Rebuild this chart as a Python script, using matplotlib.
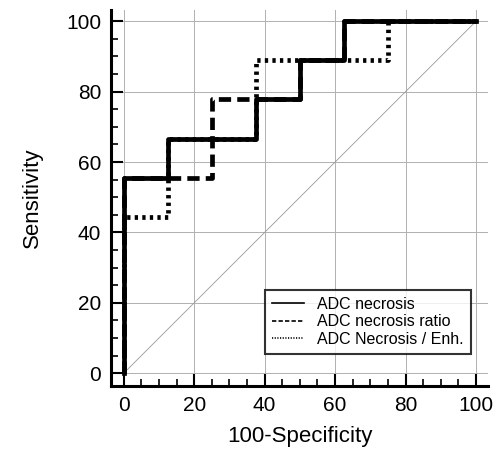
import numpy as np
import matplotlib
matplotlib.use("Agg")
import matplotlib.pyplot as plt
from matplotlib.ticker import MultipleLocator

plt.rcParams['font.family'] = ['Liberation Sans', 'DejaVu Sans']

# ROC vertices: 100-specificity (x) and sensitivity (y)
necrosis_x = [0, 0, 12.5, 12.5, 37.5, 37.5, 50, 50, 62.5, 62.5, 100]
necrosis_y = [0, 55.56, 55.56, 66.67, 66.67, 77.78, 77.78, 88.89, 88.89, 100, 100]

ratio_x = [0, 0, 25, 25, 37.5, 37.5, 50, 50, 62.5, 62.5, 100]
ratio_y = [0, 55.56, 55.56, 77.78, 77.78, 77.78, 77.78, 88.89, 88.89, 100, 100]

enh_x = [0, 0, 12.5, 12.5, 37.5, 37.5, 75, 75, 100]
enh_y = [0, 44.44, 44.44, 66.67, 66.67, 88.89, 88.89, 100, 100]

labels = ["ADC necrosis", "ADC necrosis ratio", "ADC Necrosis / Enh."]

fig = plt.figure(figsize=(4.99, 4.53), dpi=100)
ax = fig.add_axes([0.2224, 0.148, 0.7556, 0.830])

ax.plot([0, 100], [0, 100], color='#999999', lw=0.6, zorder=1)
ax.plot(enh_x, enh_y, color='black', lw=3.4, ls=(0, (0.7, 0.9)), label=labels[2], zorder=2)
ax.plot(ratio_x, ratio_y, color='black', lw=3.4, ls=(0, (2.6, 1.3)), label=labels[1], zorder=3)
ax.plot(necrosis_x, necrosis_y, color='black', lw=3.4, label=labels[0], zorder=4)

ax.set_xlim(-3.6, 103.4)
ax.set_ylim(-3.6, 103.2)
ax.xaxis.set_major_locator(MultipleLocator(20))
ax.yaxis.set_major_locator(MultipleLocator(20))
ax.xaxis.set_minor_locator(MultipleLocator(5))
ax.yaxis.set_minor_locator(MultipleLocator(5))
ax.grid(True, which='major', color='#b0b0b0', lw=0.7)
ax.set_axisbelow(True)

for s in ['top', 'right']:
    ax.spines[s].set_visible(False)
for s in ['left', 'bottom']:
    ax.spines[s].set_linewidth(2.2)

ax.tick_params(which='major', direction='in', length=8.5, width=1.5, labelsize=15, pad=7)
ax.tick_params(which='minor', direction='in', length=5, width=1.2)

ax.set_xlabel("100-Specificity", fontsize=16, labelpad=8)
ax.set_ylabel("Sensitivity", fontsize=16, labelpad=17)

# legend in the order of the reference
h, l = ax.get_legend_handles_labels()
order = [l.index(x) for x in labels]
leg = ax.legend([h[i] for i in order], [l[i] for i in order], loc='lower right',
                bbox_to_anchor=(0.976, 0.064), fontsize=11.5, frameon=True,
                fancybox=False, edgecolor='black', handlelength=2.0,
                borderpad=0.45, labelspacing=0.15, handletextpad=0.8)
leg.get_frame().set_linewidth(1.5)
for line in leg.get_lines():
    line.set_linewidth(1.2)

fig.savefig("out.png", dpi=100)
